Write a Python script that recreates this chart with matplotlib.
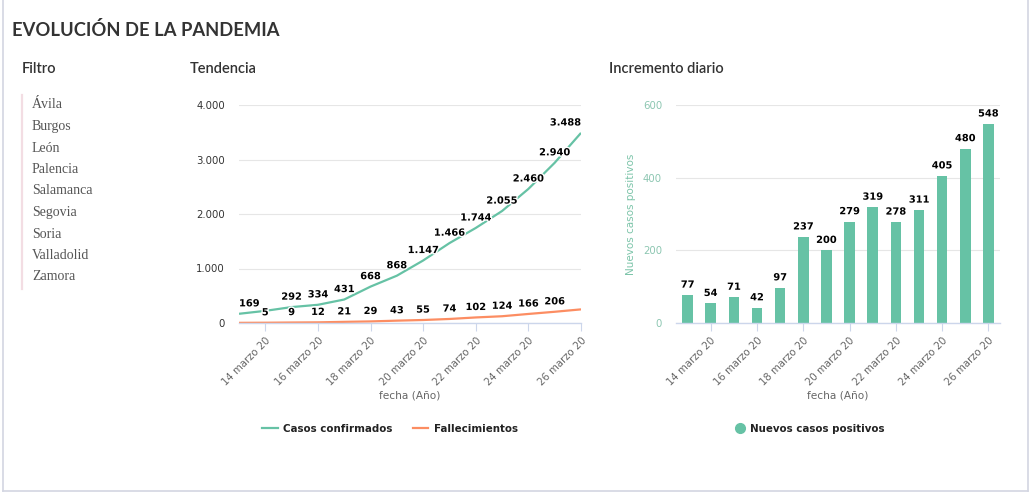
import matplotlib

matplotlib.use("Agg")
import matplotlib.pyplot as plt
import matplotlib.patheffects as pe
from matplotlib.lines import Line2D

# --- data ---------------------------------------------------------------------
days = [13, 14, 15, 16, 17, 18, 19, 20, 21, 22, 23, 24, 25, 26]
confirmados = [169, 223, 292, 334, 431, 668, 868, 1147, 1466, 1744, 2055, 2460, 2940, 3488]
fallecimientos = [3, 5, 9, 12, 21, 29, 43, 55, 74, 102, 124, 166, 206, 250]
nuevos = [77, 54, 71, 42, 97, 237, 200, 279, 319, 278, 311, 405, 480, 548]
# labels the chart hides because they overlap
show_conf = [True, False] + [True] * 12
show_fall = [False] + [True] * 12 + [False]

tick_days = [14, 16, 18, 20, 22, 24, 26]
tick_labels = [f"{d} marzo 20" for d in tick_days]
provincias = ["Ávila", "Burgos", "León", "Palencia", "Salamanca",
              "Segovia", "Soria", "Valladolid", "Zamora"]

C_CONF = "#66c2a5"
C_FALL = "#fc8d62"
C_AXIS = "#ccd6eb"
C_GRID = "#e6e6e6"
W, H = 1034, 493

plt.rcParams["font.family"] = ["DejaVu Sans"]


def fmt(v):
    return f"{v:,}".replace(",", ".")


def label(ax, x, y, v, ha="center"):
    ax.annotate(fmt(v), (x, y), xytext=(0, 7.5), textcoords="offset points",
                ha=ha, va="center", fontsize=7.1, fontweight="bold", color="#000",
                path_effects=[pe.withStroke(linewidth=2, foreground="white")],
                annotation_clip=False)


def style_axes(ax):
    for s in ("left", "right", "top"):
        ax.spines[s].set_visible(False)
    ax.spines["bottom"].set_color(C_AXIS)
    ax.spines["bottom"].set_linewidth(1)
    ax.grid(axis="y", color=C_GRID, linewidth=0.8)
    ax.set_axisbelow(True)
    ax.tick_params(axis="y", length=0, pad=10, labelsize=7.3)
    ax.tick_params(axis="x", length=6, width=0.8, color=C_AXIS, pad=3,
                   labelsize=7.3, labelcolor="#666")
    ax.set_xticks(tick_days)
    ax.set_xticklabels(tick_labels, rotation=45, ha="right", rotation_mode="anchor")
    ax.set_xlabel("fecha (Año)", fontsize=7.6, color="#666", labelpad=2)


fig = plt.figure(figsize=(W / 100, H / 100), dpi=100)


def fx(px):
    return px / W


def fy(px):
    return 1 - px / H


# --- left: tendencia ------------------------------------------------------------
ax1 = fig.add_axes([fx(239), fy(323), fx(581 - 239), fy(105) - fy(323)])
ax1.plot(days, confirmados, color=C_CONF, linewidth=1.6, solid_capstyle="butt")
ax1.plot(days, fallecimientos, color=C_FALL, linewidth=1.6, solid_capstyle="butt")
ax1.set_xlim(days[0], days[-1])
ax1.set_ylim(0, 4000)
ax1.set_yticks([0, 1000, 2000, 3000, 4000])
ax1.set_yticklabels([fmt(v) for v in [0, 1000, 2000, 3000, 4000]], color="#333")
style_axes(ax1)
for i, (d, v) in enumerate(zip(days, confirmados)):
    if show_conf[i]:
        ha = "left" if i == 0 else ("right" if i == len(days) - 1 else "center")
        label(ax1, d, v, v, ha)
for i, (d, v) in enumerate(zip(days, fallecimientos)):
    if show_fall[i]:
        label(ax1, d, v, v)

leg1 = fig.legend(
    [Line2D([], [], color=C_CONF, lw=1.6), Line2D([], [], color=C_FALL, lw=1.6)],
    ["Casos confirmados", "Fallecimientos"], loc="center",
    bbox_to_anchor=(fx(390), fy(429)), ncol=2, frameon=False, handlelength=1.5,
    handletextpad=0.5, columnspacing=2.0, prop={"size": 7.4, "weight": "bold"})
for t in leg1.get_texts():
    t.set_color("#222")

# --- right: incremento diario -----------------------------------------------------
ax2 = fig.add_axes([fx(676), fy(323), fx(1000 - 676), fy(105) - fy(323)])
ax2.bar(days, nuevos, width=0.46, color=C_CONF)
ax2.set_xlim(days[0] - 0.5, days[-1] + 0.5)
ax2.set_ylim(0, 600)
ax2.set_yticks([0, 200, 400, 600])
ax2.set_yticklabels(["0", "200", "400", "600"], color="#8cc6b1")
style_axes(ax2)
ax2.set_ylabel("Nuevos casos positivos", fontsize=7.5, color="#7cc4a9", labelpad=5)
for d, v in zip(days, nuevos):
    label(ax2, d, v, v)

leg2 = fig.legend(
    [Line2D([], [], color=C_CONF, marker="o", linestyle="none", markersize=7)],
    ["Nuevos casos positivos"], loc="center", bbox_to_anchor=(fx(810), fy(429)),
    frameon=False, handlelength=1.0, handletextpad=0.5,
    prop={"size": 7.4, "weight": "bold"})
for t in leg2.get_texts():
    t.set_color("#222")

# --- headings and filter list ---------------------------------------------------
fig.text(fx(12), fy(30), "EVOLUCIÓN DE LA PANDEMIA", family="Lato", fontsize=13.2,
         fontweight="bold", color="#333", va="center", ha="left")
for x, txt in [(22, "Filtro"), (190, "Tendencia"), (609, "Incremento diario")]:
    fig.text(fx(x), fy(69), txt, family="Lato", fontsize=10.5, fontweight="semibold",
             color="#333", va="center", ha="left")

fig.add_artist(Line2D([fx(22), fx(22)], [fy(95), fy(289)], color="#f3dde3",
                      linewidth=1.6, transform=fig.transFigure))
for i, p in enumerate(provincias):
    fig.text(fx(32), fy(105 + 21.5 * i), p, family="Liberation Serif", fontsize=10,
             color="#555", va="center", ha="left")

# outer frame
frame = dict(color="#d3d6e2", linewidth=1.2, transform=fig.transFigure)
fig.add_artist(Line2D([fx(3), fx(3)], [fy(491), 1], **frame))
fig.add_artist(Line2D([fx(3), fx(1028)], [fy(491), fy(491)], **frame))
fig.add_artist(Line2D([fx(1028), fx(1028)], [fy(491), 1], **frame))

fig.savefig("out.png", dpi=100)
